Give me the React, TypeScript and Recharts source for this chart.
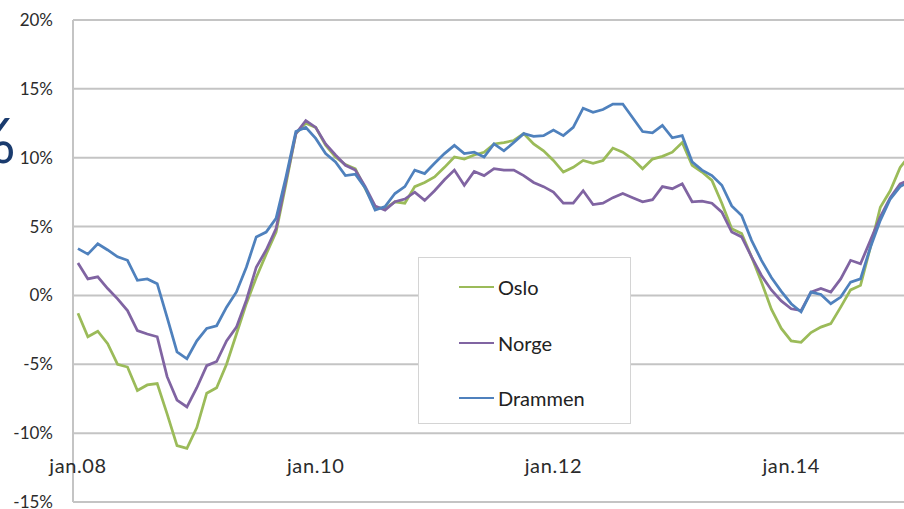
import { LineChart, Line, XAxis, YAxis, CartesianGrid, Legend } from 'recharts';

const monthNames = ['jan', 'feb', 'mar', 'apr', 'mai', 'jun', 'jul', 'aug', 'sep', 'okt', 'nov', 'des'];
const years = ['08', '09', '10', '11', '12', '13', '14', '15'];
const categories = years.flatMap((y) => monthNames.map((m) => `${m}.${y}`)).slice(0, 85);

const tickLabels = ['jan.08', 'jan.10', 'jan.12', 'jan.14'];
const yTicks = [-15, -10, -5, 0, 5, 10, 15, 20];

const oslo = [
    -1.3, -3.0, -2.6, -3.5, -5.0, -5.2, -6.9, -6.5, -6.4, -8.6, -10.9, -11.1,
    -9.6, -7.1, -6.7, -5.0, -2.8, -0.6, 1.3, 3.0, 4.6, 8.1, 11.75, 12.5,
    12.2, 10.9, 10.05, 9.5, 9.2, 7.75, 6.4, 6.3, 6.8, 6.7, 7.9, 8.2,
    8.6, 9.3, 10.05, 9.9, 10.2, 10.4, 11.0, 11.1, 11.25, 11.75, 11.0, 10.5,
    9.8, 8.96, 9.3, 9.8, 9.6, 9.8, 10.7, 10.4, 9.9, 9.2, 9.9, 10.1,
    10.4, 11.1, 9.45, 8.96, 8.35, 6.7, 4.85, 4.5, 2.8, 0.97, -1.0, -2.4,
    -3.3, -3.4, -2.7, -2.3, -2.05, -0.85, 0.4, 0.73, 3.5, 6.4, 7.6, 9.3,
    10.2,
];

const norge = [
    2.35, 1.2, 1.35, 0.5, -0.25, -1.1, -2.55, -2.8, -3.0, -5.9, -7.6, -8.1,
    -6.7, -5.1, -4.8, -3.3, -2.3, -0.35, 2.05, 3.3, 4.85, 8.35, 11.75, 12.7,
    12.2, 11.0, 10.2, 9.45, 9.1, 7.9, 6.5, 6.2, 6.8, 7.0, 7.5, 6.9,
    7.6, 8.4, 9.1, 8.0, 9.0, 8.7, 9.2, 9.1, 9.1, 8.7, 8.2, 7.9,
    7.5, 6.7, 6.7, 7.6, 6.6, 6.7, 7.1, 7.4, 7.1, 6.8, 6.95, 7.9,
    7.75, 8.1, 6.8, 6.85, 6.7, 6.05, 4.6, 4.25, 2.8, 1.45, 0.4, -0.4,
    -0.97, -1.1, 0.24, 0.5, 0.24, 1.2, 2.55, 2.3, 4.0, 5.7, 7.1, 8.1,
    8.4,
];

const drammen = [
    3.4, 3.0, 3.75, 3.3, 2.8, 2.55, 1.1, 1.2, 0.85, -1.6, -4.1, -4.6,
    -3.3, -2.4, -2.2, -0.85, 0.25, 2.05, 4.25, 4.6, 5.6, 8.6, 11.9, 12.2,
    11.4, 10.3, 9.7, 8.7, 8.8, 7.8, 6.2, 6.45, 7.4, 7.9, 9.1, 8.85,
    9.6, 10.3, 10.9, 10.3, 10.4, 10.05, 11.0, 10.5, 11.1, 11.75, 11.55, 11.6,
    12.0, 11.6, 12.2, 13.6, 13.3, 13.5, 13.9, 13.9, 12.9, 11.9, 11.8, 12.35,
    11.45, 11.6, 9.7, 9.1, 8.7, 8.0, 6.5, 5.8, 4.0, 2.55, 1.3, 0.3,
    -0.6, -1.2, 0.24, 0.07, -0.6, -0.12, 0.97, 1.2, 3.5, 5.45, 7.0, 7.9,
    8.3,
];

const series = [
    { key: 'oslo', name: 'Oslo', color: '#9bbb59' },
    { key: 'norge', name: 'Norge', color: '#8064a2' },
    { key: 'drammen', name: 'Drammen', color: '#4f81bd' },
];

const data = categories.map((month, i) => ({
    i,
    month,
    oslo: oslo[i],
    norge: norge[i],
    drammen: drammen[i],
}));

const tickIdx = tickLabels.map((t) => categories.indexOf(t));
const font = 'Lato, "Open Sans", sans-serif';

const XTick = ({ x, y, payload }: any) => (
    <text
        x={x}
        y={y - 37}
        textAnchor="middle"
        dominantBaseline="central"
        fill="#2b2b2b"
        fontSize={20}
        fontFamily={font}
        letterSpacing={0.6}
    >
        {categories[payload.value]}
    </text>
);

const LegendBox = ({ payload }: any) => {
    // keep the series order, not the alphabetical one
    const items = series.map((s) => (payload || []).find((p: any) => p.value === s.name) || { value: s.name, color: s.color });
    return (
        <div
            style={{
                width: 211,
                height: 165,
                background: '#fff',
                border: '1px solid #d4d4d4',
                fontFamily: font,
                fontSize: 20,
                color: '#222',
                position: 'relative',
            }}
        >
            {items.map((p: any, k: number) => (
                <div
                    key={p.value}
                    style={{ position: 'absolute', left: 40, top: 29 + k * 55.5 - 13, height: 26, display: 'flex', alignItems: 'center' }}
                >
                    <span style={{ display: 'inline-block', width: 35, height: 2, background: p.color, marginRight: 4 }} />
                    <span>{p.value}</span>
                </div>
            ))}
        </div>
    );
};

export default function App() {
    return (
        <div style={{ position: 'absolute', left: 0, top: 0, width: 904, height: 509, overflow: 'hidden', background: '#fff' }}>
            <div
                style={{
                    position: 'absolute',
                    left: -34,
                    top: 108,
                    fontSize: 62,
                    lineHeight: '62px',
                    color: '#1a3b6e',
                    fontFamily: font,
                }}
            >
                %
            </div>
            <LineChart width={915} height={509} data={data} margin={{ top: 20, right: 0, bottom: 0, left: 0 }}>
                <CartesianGrid vertical={false} stroke="#c4c4c4" strokeWidth={2} />
                <XAxis
                    dataKey="i"
                    type="number"
                    domain={[-0.5, 84.5]}
                    ticks={tickIdx}
                    height={7}
                    tickSize={0}
                    tickMargin={0}
                    axisLine={false}
                    tickLine={false}
                    tick={<XTick />}
                    interval={0}
                />
                <YAxis
                    type="number"
                    domain={[-15, 20]}
                    ticks={yTicks}
                    width={73}
                    tickSize={0}
                    tickMargin={20}
                    tickLine={false}
                    axisLine={{ stroke: '#c4c4c4', strokeWidth: 2 }}
                    tickFormatter={(v) => `${v}%`}
                    tick={{ fill: '#2b2b2b', fontSize: 17, fontFamily: font }}
                    interval={0}
                />
                <Legend
                    layout="vertical"
                    align="center"
                    verticalAlign="middle"
                    content={<LegendBox />}
                    wrapperStyle={{ left: 418, top: 257, width: 213, height: 167 }}
                />
                {series.map((s) => (
                    <Line
                        key={s.key}
                        type="linear"
                        dataKey={s.key}
                        name={s.name}
                        stroke={s.color}
                        strokeWidth={2.75}
                        dot={false}
                        isAnimationActive={false}
                    />
                ))}
            </LineChart>
        </div>
    );
}
